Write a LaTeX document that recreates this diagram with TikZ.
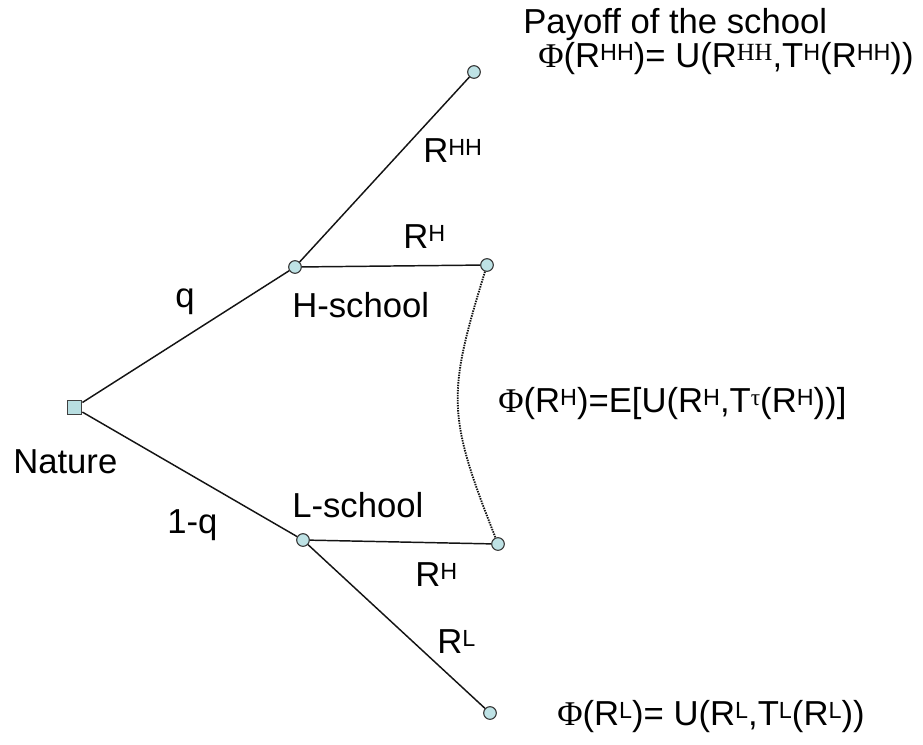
\documentclass[tikz,border=0pt]{standalone}
\usepackage{fontspec}
\setmainfont{Liberation Sans}
\newfontfamily\seriffont{Liberation Serif}
\definecolor{nodefill}{RGB}{190,226,229}
\definecolor{boxfill}{RGB}{184,222,225}
\definecolor{edgecol}{RGB}{20,20,20}
\newcommand\sps[1]{\raisebox{5pt}{\fontsize{17.5}{18}\selectfont #1}}
\newcommand\spss[1]{\raisebox{5pt}{\fontsize{18.5}{19}\selectfont\seriffont #1}}
\newcommand\phis{{\seriffont Φ}}
\newcommand\taus{{\seriffont τ}}
\begin{document}
\begin{tikzpicture}[x=0.75pt,y=-0.75pt,
  lbl/.style={anchor=base west,inner sep=0pt,font=\fontsize{26}{30}\selectfont},
  chance/.style={circle,draw=black!80,fill=nodefill,line width=0.8pt,minimum size=9.5pt,inner sep=0pt},
  naturebox/.style={rectangle,draw=black!75,fill=boxfill,line width=0.9pt,minimum size=11pt,inner sep=0pt},
  edgeline/.style={line width=1.1pt,draw=edgecol},
  infoset/.style={line width=1.4pt,draw=edgecol,dash pattern=on 1.1pt off 0.8pt}]
\useasboundingbox (0,0) rectangle (923,744);
% nodes
\node[naturebox] (nature) at (74.5,407.5) {};
\node[chance] (hs) at (295,267) {};
\node[chance] (ls) at (303,540) {};
\node[chance] (top) at (474,72) {};
\node[chance] (hr) at (487,265) {};
\node[chance] (lr) at (498,544) {};
\node[chance] (bot) at (490,713) {};
% edges
\draw[edgeline] (nature) -- (hs);
\draw[edgeline] (nature) -- (ls);
\draw[edgeline] (hs) -- (top);
\draw[edgeline] (hs) -- (hr);
\draw[edgeline] (ls) -- (lr);
\draw[edgeline] (ls) -- (bot);
\draw[infoset] (hr) .. controls (447,395) and (447,415) .. (lr);
% labels
\node[lbl] (payoff) at (523,33) {Payoff of the school};
\node[lbl] (phihh) at (538,67) {\phis(R\sps{HH})= U(R\spss{HH},T\sps{H}(R\sps{HH}))};
\node[lbl] (rhh) at (423,162) {R\sps{HH}};
\node[lbl] (rhup) at (403,248) {R\sps{H}};
\node[lbl] (q) at (175,307) {q};
\node[lbl] (hschool) at (292,317) {H-school};
\node[lbl] (phih) at (498,412) {\phis(R\sps{H})=E[U(R\sps{H},T\sps{\taus}(R\sps{H}))]};
\node[lbl] (naturelbl) at (13,473) {Nature};
\node[lbl] (lschool) at (292,517) {L-school};
\node[lbl] (oneq) at (167,533) {1-q};
\node[lbl] (rhlow) at (415,586) {R\sps{H}};
\node[lbl] (rl) at (437,653) {R\sps{L}};
\node[lbl] (phil) at (557,725) {\phis(R\sps{L})= U(R\sps{L},T\sps{L}(R\sps{L}))};
\end{tikzpicture}
\end{document}
